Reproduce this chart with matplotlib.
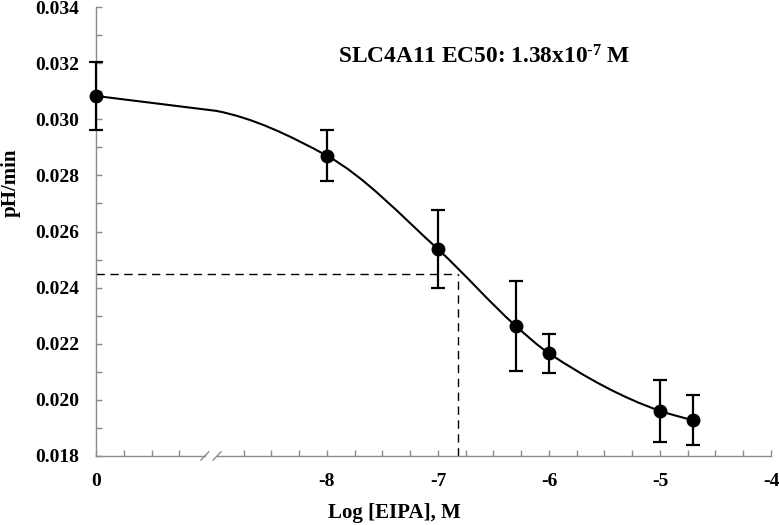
import numpy as np
import matplotlib
matplotlib.use('Agg')
import matplotlib.pyplot as plt
from matplotlib.path import Path
from matplotlib.patches import PathPatch

plt.rcParams['font.family'] = ['Liberation Serif', 'DejaVu Serif']
plt.rcParams['font.weight'] = 'bold'
plt.rcParams['mathtext.fontset'] = 'custom'
plt.rcParams['mathtext.rm'] = 'Liberation Serif:bold'
plt.rcParams['mathtext.it'] = 'Liberation Serif:bold'
plt.rcParams['mathtext.bf'] = 'Liberation Serif:bold'
plt.rcParams['axes.unicode_minus'] = False

# data (x = log[EIPA]; control "0" sits at the left edge of a broken axis)
ctrl_pos = -10.08
log_conc = [-8.0, -7.0, -6.3, -6.0, -5.0, -4.7]
rate = [0.02870, 0.02537, 0.02264, 0.02166, 0.01961, 0.01928]
rate_err = [0.0009, 0.0014, 0.0016, 0.0007, 0.0011, 0.0009]
ctrl_rate = 0.03083
ctrl_err = 0.0012
curve_start = (-9.0, 0.03030)
ec50_log = -6.82
half_rate = 0.02447

xtick_pos = [ctrl_pos, -8, -7, -6, -5, -4]
xtick_labels = ['0', '-8', '-7', '-6', '-5', '-4']

fig = plt.figure(figsize=(7.79, 5.25), dpi=100)
ax = fig.add_axes([96 / 779, 69 / 525, 675 / 779, 449 / 525])

gray = '#8c8c8c'


def pchip_slopes(x, y):
    x = np.asarray(x, float)
    y = np.asarray(y, float)
    h = np.diff(x)
    d = np.diff(y) / h
    m = np.zeros_like(y)
    for k in range(1, len(x) - 1):
        if d[k - 1] * d[k] > 0:
            w1 = 2 * h[k] + h[k - 1]
            w2 = h[k] + 2 * h[k - 1]
            m[k] = (w1 + w2) / (w1 / d[k - 1] + w2 / d[k])
    m[0] = ((2 * h[0] + h[1]) * d[0] - h[0] * d[1]) / (h[0] + h[1])
    if m[0] * d[0] <= 0:
        m[0] = 0
    m[-1] = ((2 * h[-1] + h[-2]) * d[-1] - h[-1] * d[-2]) / (h[-1] + h[-2])
    if m[-1] * d[-1] <= 0:
        m[-1] = 0
    return m


# line: control -> start of fit, then smooth bezier through the points
ax.plot([ctrl_pos, curve_start[0]], [ctrl_rate, curve_start[1]], color='black', lw=1.5, zorder=3)
px = [curve_start[0]] + log_conc
py = [curve_start[1]] + rate
slopes = pchip_slopes(px, py)
verts = [(px[0], py[0])]
codes = [Path.MOVETO]
for i in range(len(px) - 1):
    h = px[i + 1] - px[i]
    verts += [(px[i] + h / 3, py[i] + slopes[i] * h / 3),
              (px[i + 1] - h / 3, py[i + 1] - slopes[i + 1] * h / 3),
              (px[i + 1], py[i + 1])]
    codes += [Path.CURVE4] * 3
ax.add_patch(PathPatch(Path(verts, codes), fill=False, edgecolor='black', lw=1.5, zorder=3))

# points with error bars
ax.errorbar([ctrl_pos] + log_conc, [ctrl_rate] + rate, yerr=[ctrl_err] + rate_err,
            fmt='o', color='black', ms=9, elinewidth=1.6, capsize=5, capthick=1.6,
            zorder=4, clip_on=False)

# EC50 guide lines
ax.plot([ctrl_pos, ec50_log], [half_rate, half_rate], color='black', lw=1, dashes=(6, 4), zorder=2)
ax.plot([ec50_log, ec50_log], [0.018, half_rate], color='black', lw=1, dashes=(6, 4), zorder=2)

ax.set_xlim(ctrl_pos, -4)
ax.set_ylim(0.018, 0.034)

# spines: left only; bottom drawn by hand with a break
for s in ['top', 'right', 'bottom']:
    ax.spines[s].set_visible(False)
ax.spines['left'].set_color(gray)
ax.spines['left'].set_linewidth(1)
tr = ax.get_xaxis_transform()
gap_l, gap_r = -9.10, -8.99
ax.plot([ctrl_pos, gap_l], [0, 0], color=gray, lw=1, transform=tr, clip_on=False)
ax.plot([gap_r, -4], [0, 0], color=gray, lw=1, transform=tr, clip_on=False)
for gx in [gap_l, gap_r]:
    ax.plot([gx - 0.035, gx + 0.035], [-0.009, 0.009], color=gray, lw=1, transform=tr, clip_on=False)

ax.set_xticks(xtick_pos)
ax.set_xticklabels(xtick_labels)
minor_x = [ctrl_pos + 0.25 * k for k in (1, 2, 3)] + [-8 - 0.25 * k for k in (1, 2, 3)]
minor_x += [v for v in np.arange(-8, -4, 0.25) if abs(v - round(v)) > 1e-6]
ax.set_xticks(minor_x, minor=True)
ax.set_yticks(np.arange(0.018, 0.0341, 0.002))
ax.set_yticklabels([f'{v:.3f}' for v in np.arange(0.018, 0.0341, 0.002)])
ax.set_yticks(np.arange(0.019, 0.034, 0.002), minor=True)

ax.tick_params(axis='both', which='both', direction='in', color=gray, width=1, length=4)
ax.tick_params(axis='y', labelsize=14, pad=12)
ax.tick_params(axis='x', labelsize=14, pad=12)

fig.text(0.0135, 0.651, 'pH/min', rotation=90, ha='center', va='center', fontsize=15, fontweight='bold')
fig.text(0.506, 0.023, 'Log [EIPA], M', ha='center', va='center', fontsize=15, fontweight='bold')
fig.text(338 / 779, (525 - 57) / 525, r'SLC4A11 EC50: 1.38x10$^{\text{-7}}$ M', fontsize=16.8,
         fontweight='bold', ha='left', va='center')

fig.savefig('out.png', dpi=100)
